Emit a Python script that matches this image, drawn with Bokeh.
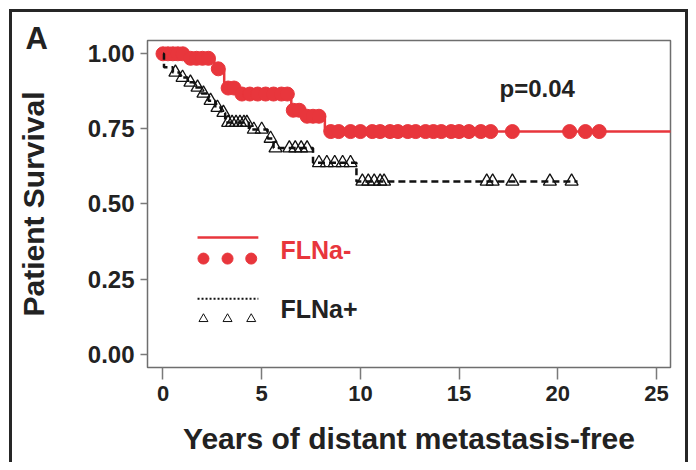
import numpy as np
from bokeh.plotting import figure
from bokeh.models import Range1d, Label, NumeralTickFormatter
from bokeh.embed import file_html
from bokeh.resources import INLINE

# ---------------- data ----------------
# FLNa- : Kaplan-Meier step function (time of drop, survival after drop)
red_step_t = [0.0, 1.2, 2.6, 3.1, 3.9, 6.5, 7.1, 8.2]
red_step_s = [1.00, 0.985, 0.95, 0.886, 0.866, 0.812, 0.792, 0.741]
red_end_t = 26.0
red_cens_t = [0.0, 0.25, 0.5, 0.75, 1.0,
              1.4, 1.7, 2.0, 2.3,
              2.8,
              3.3, 3.6,
              4.0, 4.4, 4.8, 5.2, 5.6, 6.0, 6.3,
              6.6, 6.9,
              7.3, 7.6, 7.9,
              8.5, 8.9, 9.5, 10.0, 10.6, 11.0, 11.5, 11.9, 12.4, 12.8,
              13.3, 13.7, 14.1, 14.6, 15.0, 15.5, 16.1, 16.6, 17.7,
              20.6, 21.4, 22.1]

# FLNa+ : Kaplan-Meier step function
black_step_t = [0.0, 0.05, 0.5, 0.85, 1.25, 1.6, 1.95, 2.3, 2.65, 2.95, 3.15,
                4.35, 5.3, 5.6, 7.6, 9.8]
black_step_s = [1.00, 0.955, 0.938, 0.921, 0.905, 0.888, 0.868, 0.844, 0.821,
                0.804, 0.771, 0.748, 0.718, 0.686, 0.637, 0.575]
black_end_t = 21.0
black_cens_t = [0.63, 0.99, 1.39, 1.75, 2.05, 2.41, 2.76, 3.06,
                3.3, 3.5, 3.7, 3.9, 4.1, 4.25,
                4.6, 5.0,
                5.45,
                5.7, 6.4, 6.7, 7.0, 7.3,
                7.9, 8.3, 8.7, 9.1, 9.5,
                10.1, 10.4, 10.7, 11.0, 11.2, 16.4, 16.7, 17.7, 19.6, 20.7]

x_ticks = [0, 5, 10, 15, 20, 25]
y_ticks = [0.0, 0.25, 0.50, 0.75, 1.00]
series_labels = ["FLNa-", "FLNa+"]
p_value_text = "p=0.04"
panel_letter = "A"
x_title = "Years of distant metastasis-free"
y_title = "Patient Survival"

RED = "#e8363c"
DARK = "#222222"
BORDER = "#262626"
FONT = "Liberation Sans"


def surv_at(step_t, step_s, t):
    idx = np.searchsorted(np.asarray(step_t), np.asarray(t), side="right") - 1
    return np.asarray(step_s)[idx]


X0, X1 = -0.785, 25.71
Y0, Y1 = -0.0447, 1.0443
W, H = 688, 462

p = figure(width=W, height=H, output_backend="svg", toolbar_location=None,
           x_range=Range1d(X0, X1), y_range=Range1d(Y0, Y1),
           min_border_left=147, min_border_right=W - 670,
           min_border_top=40, min_border_bottom=H - 367)

p.background_fill_color = "white"
p.border_fill_color = None
bar = f"linear-gradient({BORDER},{BORDER})"
p.styles = {
    "background": (f"{bar} 9px 9px / 3px 100% no-repeat, "
                   f"{bar} 9px 9px / {W - 9}px 3px no-repeat, "
                   f"{bar} {W - 3}px 9px / 3px 100% no-repeat, #ffffff"),
}
p.xgrid.visible = False
p.ygrid.visible = False
p.outline_line_color = "#6e6e6e"
p.outline_line_width = 1.5

# panel letter as the title
p.title.text = panel_letter
p.title.align = "left"
p.title.vertical_align = "middle"
p.title.offset = 25 - 147
p.title.standoff = -32
p.title.text_font = FONT
p.title.text_font_style = "bold"
p.title.text_font_size = "31px"
p.title.text_color = DARK

# axes
for ax in (p.xaxis[0], p.yaxis[0]):
    ax.axis_line_color = None
    ax.major_tick_line_color = "#7a7a7a"
    ax.major_tick_line_width = 1.5
    ax.major_tick_in = 0
    ax.minor_tick_line_color = None
    ax.major_label_text_font = FONT
    ax.major_label_text_font_style = "bold"
    ax.major_label_text_color = DARK
    ax.axis_label_text_font = FONT
    ax.axis_label_text_font_style = "bold"
    ax.axis_label_text_color = DARK
    ax.axis_label_text_font_size = "30px"

p.xaxis.ticker = x_ticks
p.yaxis.ticker = y_ticks
p.yaxis.formatter = NumeralTickFormatter(format="0.00")
p.xaxis.major_tick_out = 12
p.yaxis.major_tick_out = 7
p.xaxis.major_label_text_font_size = "22px"
p.yaxis.major_label_text_font_size = "24px"
p.xaxis.major_label_standoff = 6
p.yaxis.major_label_standoff = 6
p.xaxis.axis_label = x_title
p.yaxis.axis_label = y_title
p.xaxis.axis_label_standoff = 18
p.yaxis.axis_label_standoff = 35

# curves
rx = list(red_step_t) + [red_end_t]
ry = list(red_step_s) + [red_step_s[-1]]
p.step(rx, ry, mode="after", line_color=RED, line_width=2.5)
p.scatter(red_cens_t, surv_at(red_step_t, red_step_s, red_cens_t), marker="circle",
          size=14, fill_color=RED, line_color=RED)

bx = list(black_step_t) + [black_end_t]
by = list(black_step_s) + [black_step_s[-1]]
p.step(bx, by, mode="after", line_color="#111111", line_width=2.5, line_dash="7 4")
p.scatter(black_cens_t, surv_at(black_step_t, black_step_s, black_cens_t), marker="triangle",
          size=13, fill_alpha=0, line_color="#111111", line_width=1.3)

# legend (drawn by hand, layout as in the reference)
LEG_X0, LEG_X1 = 1.75, 4.83
leg_mark_x = [2.05, 3.27, 4.47]
p.line([LEG_X0, LEG_X1], [0.388, 0.388], line_color=RED, line_width=2.5)
p.scatter(leg_mark_x, [0.318] * 3, marker="circle", size=11, fill_color=RED, line_color=RED)
p.line([LEG_X0, LEG_X1], [0.184, 0.184], line_color="#111111", line_width=2, line_dash="2 2")
p.scatter(leg_mark_x, [0.117] * 3, marker="triangle", size=9, fill_alpha=0,
          line_color="#111111", line_width=1)
p.add_layout(Label(x=5.95, y=0.345, text=series_labels[0], text_font=FONT,
                   text_font_style="bold", text_font_size="25px", text_color=RED,
                   text_baseline="middle"))
p.add_layout(Label(x=5.95, y=0.150, text=series_labels[1], text_font=FONT,
                   text_font_style="bold", text_font_size="25px", text_color=DARK,
                   text_baseline="middle"))

# p-value
p.add_layout(Label(x=17.05, y=0.885, text=p_value_text, text_font=FONT,
                   text_font_style="bold", text_font_size="24px", text_color=DARK,
                   text_baseline="middle"))

open("out.html", "w").write(file_html(p, INLINE))
